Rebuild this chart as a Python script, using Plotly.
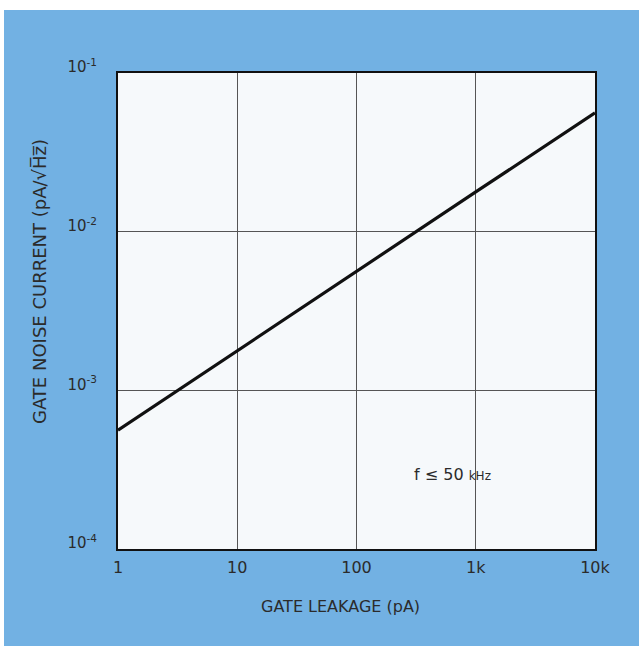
import plotly.graph_objects as go

# Gate noise current vs gate leakage (log-log)
leakage_pa = [1, 10, 100, 1000, 10000]
noise_pa_rthz = [5.6e-4, 1.78e-3, 5.6e-3, 1.78e-2, 5.6e-2]

x_tick_vals = [1, 10, 100, 1000, 10000]
x_tick_text = ["1", "10", "100", "1k", "10k"]
y_tick_vals = [1e-4, 1e-3, 1e-2, 1e-1]
y_tick_text = ["10<sup>-4</sup>", "10<sup>-3</sup>", "10<sup>-2</sup>", "10<sup>-1</sup>"]

BLUE = "#72b1e3"
INK = "#2b2b2b"
FONT = "DejaVu Sans"

W, H = 639, 646
L, R, T, B = 118, 44, 73, 97

fig = go.Figure()
fig.add_trace(go.Scatter(
    x=leakage_pa, y=noise_pa_rthz, mode="lines",
    line=dict(color="#111111", width=3.2),
    hoverinfo="skip", showlegend=False,
))

axis_common = dict(
    showline=True, linecolor="#111111", linewidth=2, mirror=True,
    showgrid=True, gridcolor="#555555", gridwidth=1,
    zeroline=False, ticks="",
)

fig.update_xaxes(
    type="log", range=[0, 4],
    tickvals=x_tick_vals, ticktext=x_tick_text,
    ticklabelstandoff=3,
    tickfont=dict(family=FONT, size=16, color=INK),
    **axis_common,
)
fig.update_yaxes(
    type="log", range=[-4, -1],
    tickvals=y_tick_vals, ticktext=y_tick_text,
    ticklabelstandoff=16,
    ticklabelshift=-6,
    tickfont=dict(family=FONT, size=15, color=INK),
    **axis_common,
)

pw = W - L - R
ph = H - T - B


def px_x(px):
    return (px - L) / pw


def px_y(py):
    return (H - B - py) / ph


annotations = [
    dict(text="GATE LEAKAGE (pA)", x=px_x(340), y=px_y(606),
         xref="paper", yref="paper", xanchor="center", yanchor="middle",
         showarrow=False, font=dict(family=FONT, size=16, color=INK)),
    dict(text="GATE NOISE CURRENT (pA/\u221aH\u0305z\u0305)", x=px_x(39), y=px_y(282),
         xref="paper", yref="paper", xanchor="center", yanchor="middle",
         showarrow=False, textangle=-90,
         font=dict(family=FONT, size=18, color=INK)),
    dict(text="f \u2264 50 <span style='font-size:12px'>kHz</span>",
         x=px_x(412), y=px_y(474), xref="paper", yref="paper",
         xanchor="left", yanchor="middle", showarrow=False,
         font=dict(family=FONT, size=16, color=INK)),
]

# white page border visible along the top and left edges
shapes = [
    dict(type="rect", xref="paper", yref="paper",
         x0=px_x(0), x1=px_x(W), y0=px_y(10), y1=px_y(0),
         fillcolor="white", line=dict(width=0), layer="below"),
    dict(type="rect", xref="paper", yref="paper",
         x0=px_x(0), x1=px_x(4), y0=px_y(H), y1=px_y(0),
         fillcolor="white", line=dict(width=0), layer="below"),
]

fig.update_layout(
    width=W, height=H,
    margin=dict(l=L, r=R, t=T, b=B),
    paper_bgcolor=BLUE, plot_bgcolor="#f6f9fb",
    annotations=annotations, shapes=shapes,
    font=dict(family=FONT, color=INK),
)

fig.write_html("out.html")
